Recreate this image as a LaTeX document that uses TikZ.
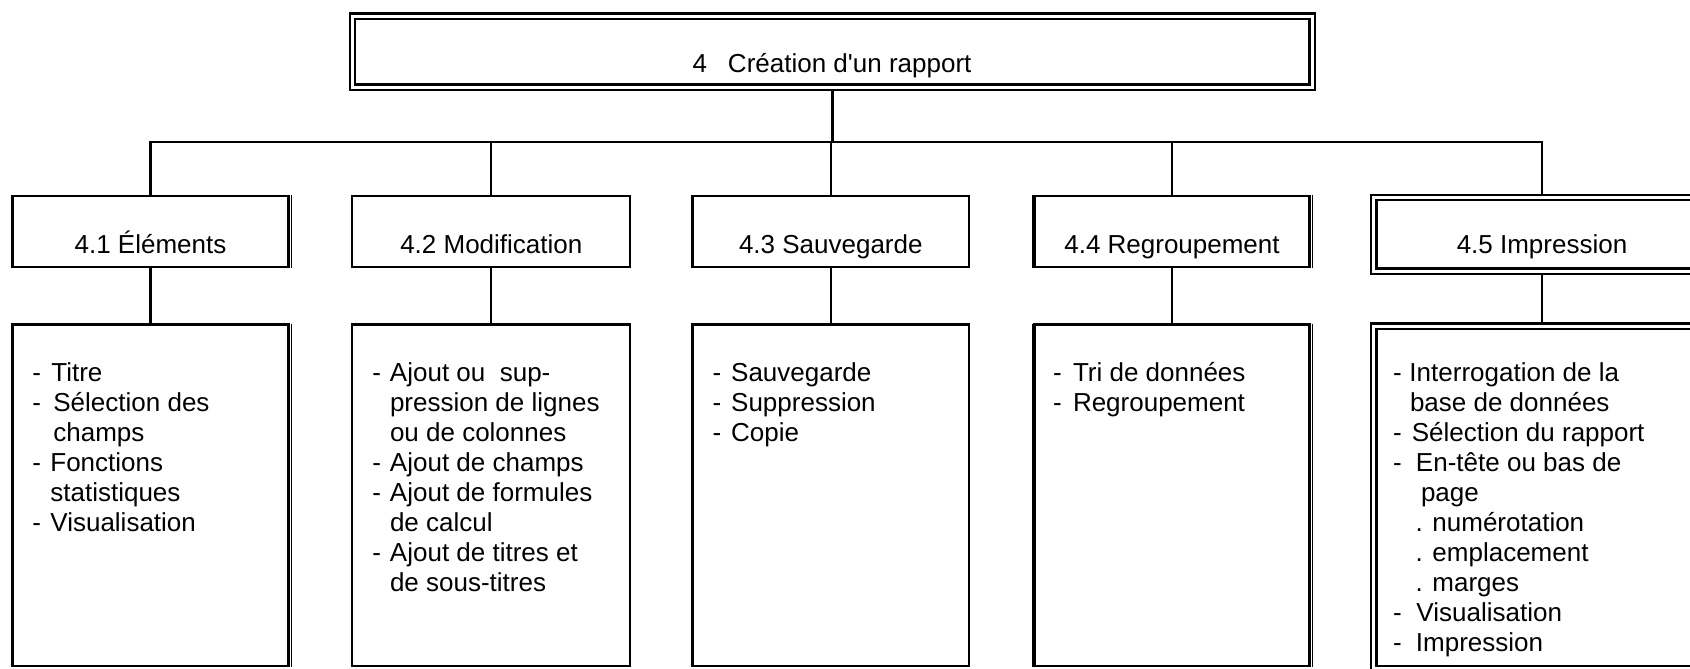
\documentclass[tikz,border=0pt]{standalone}
\usepackage{fontspec}
\newfontfamily\arialf{Liberation Sans}
\newcommand\dashln[2]{\makebox[#1][l]{-}#2}
\newcommand\contln[2]{\hspace*{#1}#2}
\begin{document}
\begin{tikzpicture}[x=1pt,y=-1pt,
  every node/.style={font=\arialf\fontsize{26pt}{30pt}\selectfont, inner sep=0pt, outer sep=0pt},
  sbox/.style={draw, line width=2.3pt, minimum width=#1, minimum height=71.1pt},
  lbox/.style={draw, line width=2.3pt, minimum width=#1, minimum height=341.5pt},
  dbox/.style={draw, line width=2.3pt, double=white, double distance=3pt, outer sep=3.8pt},
  conn/.style={line width=2.3pt},
  thinl/.style={line width=0.9pt},
  ttl/.style={anchor=base},
  lst/.style={anchor=base west}
]
\useasboundingbox (0,0) rectangle (1690,669);
\fill[white] (0,0) rectangle (1690,669);
\clip (0,0) rectangle (1690,669);

% top box
\node[dbox, minimum width=959.6pt, minimum height=70.9pt] (top) at (832.4,51.75) {};
\node[ttl] (ttop) at (832,73) {4\hspace{21pt}Création d'un rapport};

% child boxes
\node[sbox=276pt] (c1) at (150.5,231.75) {};
\node[sbox=278pt] (c2) at (491.3,231.75) {};
\node[sbox=276.4pt] (c3) at (830.8,231.75) {};
\node[sbox=275pt] (c4) at (1172,231.75) {};
\node[dbox, minimum width=336.6pt, minimum height=73.7pt] (c5) at (1542,234.15) {};

\node[ttl] (t1) at (150.5,253) {4.1 Éléments};
\node[ttl] (t2) at (491.3,253) {4.2 Modification};
\node[ttl] (t3) at (830.8,253) {4.3 Sauvegarde};
\node[ttl] (t4) at (1172,253) {4.4 Regroupement};
\node[ttl] (t5) at (1542,253) {4.5 Impression};

% bottom boxes
\node[lbox=276pt] (b1) at (150.5,495.25) {};
\node[lbox=278pt] (b2) at (491.3,495.25) {};
\node[lbox=276.4pt] (b3) at (830.8,495.25) {};
\node[lbox=275pt] (b4) at (1172,495.25) {};
\node[dbox, minimum width=336.6pt, minimum height=342.3pt] (b5) at (1542,497.35) {};

% extra thin side lines
\foreach \n in {c1,b1,c4,b4}{
  \draw[thinl] ([xshift=2.5pt,yshift=1pt]\n.north east) -- ([xshift=2.5pt,yshift=-1pt]\n.south east);
}
\foreach \n in {c4,b4}{
  \draw[thinl] ([xshift=-2.5pt,yshift=1pt]\n.north west) -- ([xshift=-2.5pt,yshift=-1pt]\n.south west);
}

% connectors
\coordinate (bus) at (832,142);
\draw[conn] (top.south) -- (top.south |- bus);
\draw[conn, line join=miter] (c1.north) -- (c1.north |- bus) -- (c5.north |- bus) -- (c5.north);
\draw[conn] (c2.north) -- (c2.north |- bus);
\draw[conn] (c3.north) -- (c3.north |- bus);
\draw[conn] (c4.north) -- (c4.north |- bus);
\draw[conn] (c1.south) -- (b1.north);
\draw[conn] (c2.south) -- (b2.north);
\draw[conn] (c3.south) -- (b3.north);
\draw[conn] (c4.south) -- (b4.north);
\draw[conn] (c5.south) -- (b5.north);

% lists
\node[lst] (l1) at (32.4,381) {\begin{tabular}[t]{@{}l@{}}
\dashln{19pt}{Titre}\\
\dashln{21pt}{Sélection des}\\
\contln{21pt}{champs}\\
\dashln{18pt}{Fonctions}\\
\contln{18pt}{statistiques}\\
\dashln{18pt}{Visualisation}
\end{tabular}};

\node[lst] (l2) at (372.4,381) {\begin{tabular}[t]{@{}l@{}}
\dashln{17.6pt}{Ajout ou\ \ sup-}\\
\contln{17.6pt}{pression de lignes}\\
\contln{17.6pt}{ou de colonnes}\\
\dashln{17.6pt}{Ajout de champs}\\
\dashln{17.6pt}{Ajout de formules}\\
\contln{17.6pt}{de calcul}\\
\dashln{17.6pt}{Ajout de titres et}\\
\contln{17.6pt}{de sous-titres}
\end{tabular}};

\node[lst] (l3) at (712.6,381) {\begin{tabular}[t]{@{}l@{}}
\dashln{18.6pt}{Sauvegarde}\\
\dashln{18.6pt}{Suppression}\\
\dashln{18.6pt}{Copie}
\end{tabular}};

\node[lst] (l4) at (1053,381) {\begin{tabular}[t]{@{}l@{}}
\dashln{20pt}{Tri de données}\\
\dashln{20pt}{Regroupement}
\end{tabular}};

\node[lst] (l5) at (1393,381) {\begin{tabular}[t]{@{}l@{}}
\dashln{16.5pt}{Interrogation de la}\\
\contln{17pt}{base de données}\\
\dashln{18.8pt}{Sélection du rapport}\\
\dashln{23pt}{En-tête ou bas de}\\
\contln{28pt}{page}\\
\contln{22.6pt}{. numérotation}\\
\contln{22.6pt}{. emplacement}\\
\contln{22.6pt}{. marges}\\
\dashln{23.5pt}{Visualisation}\\
\dashln{23pt}{Impression}
\end{tabular}};
\end{tikzpicture}
\end{document}
